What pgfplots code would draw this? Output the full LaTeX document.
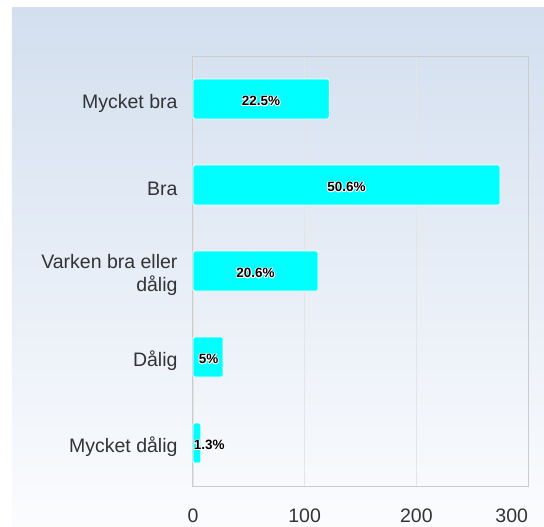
\documentclass[border=0pt]{standalone}
\usepackage{pgfplots}
\pgfplotsset{compat=1.18}
\usepackage{fontspec}
\setmainfont{Liberation Sans}
\usepackage{contour}
\contourlength{0.7pt}
\definecolor{bgtop}{HTML}{D3DFEF}
\definecolor{bgbot}{HTML}{FBFCFE}
\definecolor{barcol}{HTML}{00FFFF}
\definecolor{txt}{HTML}{333333}
\begin{document}
\begin{tikzpicture}
\useasboundingbox (-193bp,-41bp) rectangle (351bp,486bp);
\shade[top color=bgtop, bottom color=bgbot] (-181bp,-41bp) rectangle (351bp,478bp);
\begin{axis}[
  at={(0,0)}, anchor=south west,
  scale only axis, width=335bp, height=430bp,
  xmin=0, xmax=300, ymin=-0.5, ymax=4.5, y dir=reverse,
  ytick={0,1,2,3,4},
  yticklabels={Mycket bra,Bra,{Varken bra eller\\dålig},Dålig,Mycket dålig},
  xtick={0,100,200,300},
  xticklabels={0,100,200,\llap{300}},
  major tick length=0pt,
  xmajorgrids, grid style={draw=black!10, line width=0.8bp},
  axis line style={draw=black!20, line width=1bp},
  /pgf/number format/assume math mode=true,
  yticklabel style={font=\fontsize{19.5bp}{23.6bp}\selectfont, text=txt, align=right, xshift=-12bp, yshift=-4bp},
  xticklabel style={font=\fontsize{19.5bp}{23.6bp}\selectfont, text=txt, yshift=-19bp},
  axis on top=false,
  clip=false,
]
\addplot[xbar, bar width=40bp, fill=barcol, draw=white, line width=0.8bp, rounded corners=1.5bp]
  coordinates {(122,0) (275,1) (112,2) (27,3) (7,4)};
\addplot[draw=none, mark=none, point meta=explicit symbolic,
  nodes near coords={\contour{white}{\textbf{\pgfplotspointmeta}}},
  every node near coord/.style={anchor=center, yshift=-2.5bp, font=\fontsize{13.5bp}{15bp}\selectfont, text=black}]
  coordinates {(61,0) [22.5\%] (137.5,1) [50.6\%] (56,2) [20.6\%] (14,3) [5\%] (14.5,4) [1.3\%]};
\end{axis}
\end{tikzpicture}
\end{document}
